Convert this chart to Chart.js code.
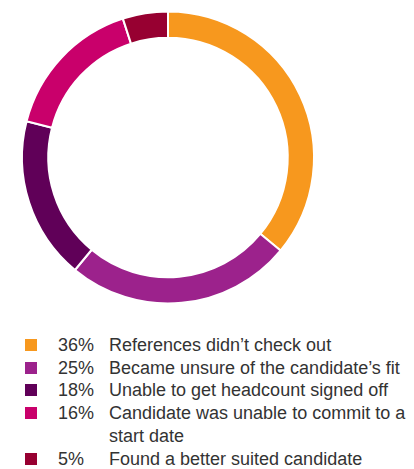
<!DOCTYPE html>
<html>
<head>
<meta charset="utf-8">
<script src="https://cdn.jsdelivr.net/npm/chart.js@4/dist/chart.umd.min.js"></script>
<style>
  html, body { margin: 0; padding: 0; background: #fff; }
  #wrap { position: relative; width: 414px; height: 469px; overflow: hidden; }
  #chartBox { position: absolute; left: 0; top: 0; width: 414px; height: 320px; }
  #legend { position: absolute; left: 0; top: 334px; width: 414px;
    font-family: "Liberation Sans", Arial, Helvetica, sans-serif; font-size: 18px;
    color: #333333; line-height: 22.7px; }
  .row { position: relative; height: auto; }
  .sw { position: absolute; left: 25px; top: 5px; width: 12px; height: 12px; }
  .pct { position: absolute; left: 58px; top: 0; }
  .lab { margin-left: 109px; width: 303px; }
</style>
</head>
<body>
<div id="wrap">
  <div id="chartBox"><canvas id="c"></canvas></div>
  <div id="legend"></div>
</div>
<script>
const categories = [
  "References didn\u2019t check out",
  "Became unsure of the candidate\u2019s fit",
  "Unable to get headcount signed off",
  "Candidate was unable to commit to a start date",
  "Found a better suited candidate"
];
const values = [36, 25, 18, 16, 5];
const colors = ["#F7981E", "#9C228C", "#600058", "#C9006B", "#970031"];

new Chart(document.getElementById('c'), {
  type: 'doughnut',
  data: {
    labels: categories,
    datasets: [{
      data: values,
      backgroundColor: colors,
      borderColor: '#ffffff',
      borderWidth: 2,
      hoverOffset: 0
    }]
  },
  options: {
    responsive: true,
    maintainAspectRatio: false,
    animation: false,
    cutout: '82%',
    layout: { padding: { left: 21, right: 99, top: 10, bottom: 15 } },
    plugins: { legend: { display: false }, tooltip: { enabled: false } }
  }
});

const legend = document.getElementById('legend');
categories.forEach((cat, i) => {
  const row = document.createElement('div');
  row.className = 'row';
  const sw = document.createElement('div');
  sw.className = 'sw';
  sw.style.background = colors[i];
  const pct = document.createElement('div');
  pct.className = 'pct';
  pct.textContent = values[i] + '%';
  const lab = document.createElement('div');
  lab.className = 'lab';
  lab.textContent = cat;
  row.appendChild(sw); row.appendChild(pct); row.appendChild(lab);
  legend.appendChild(row);
});
</script>
</body>
</html>
